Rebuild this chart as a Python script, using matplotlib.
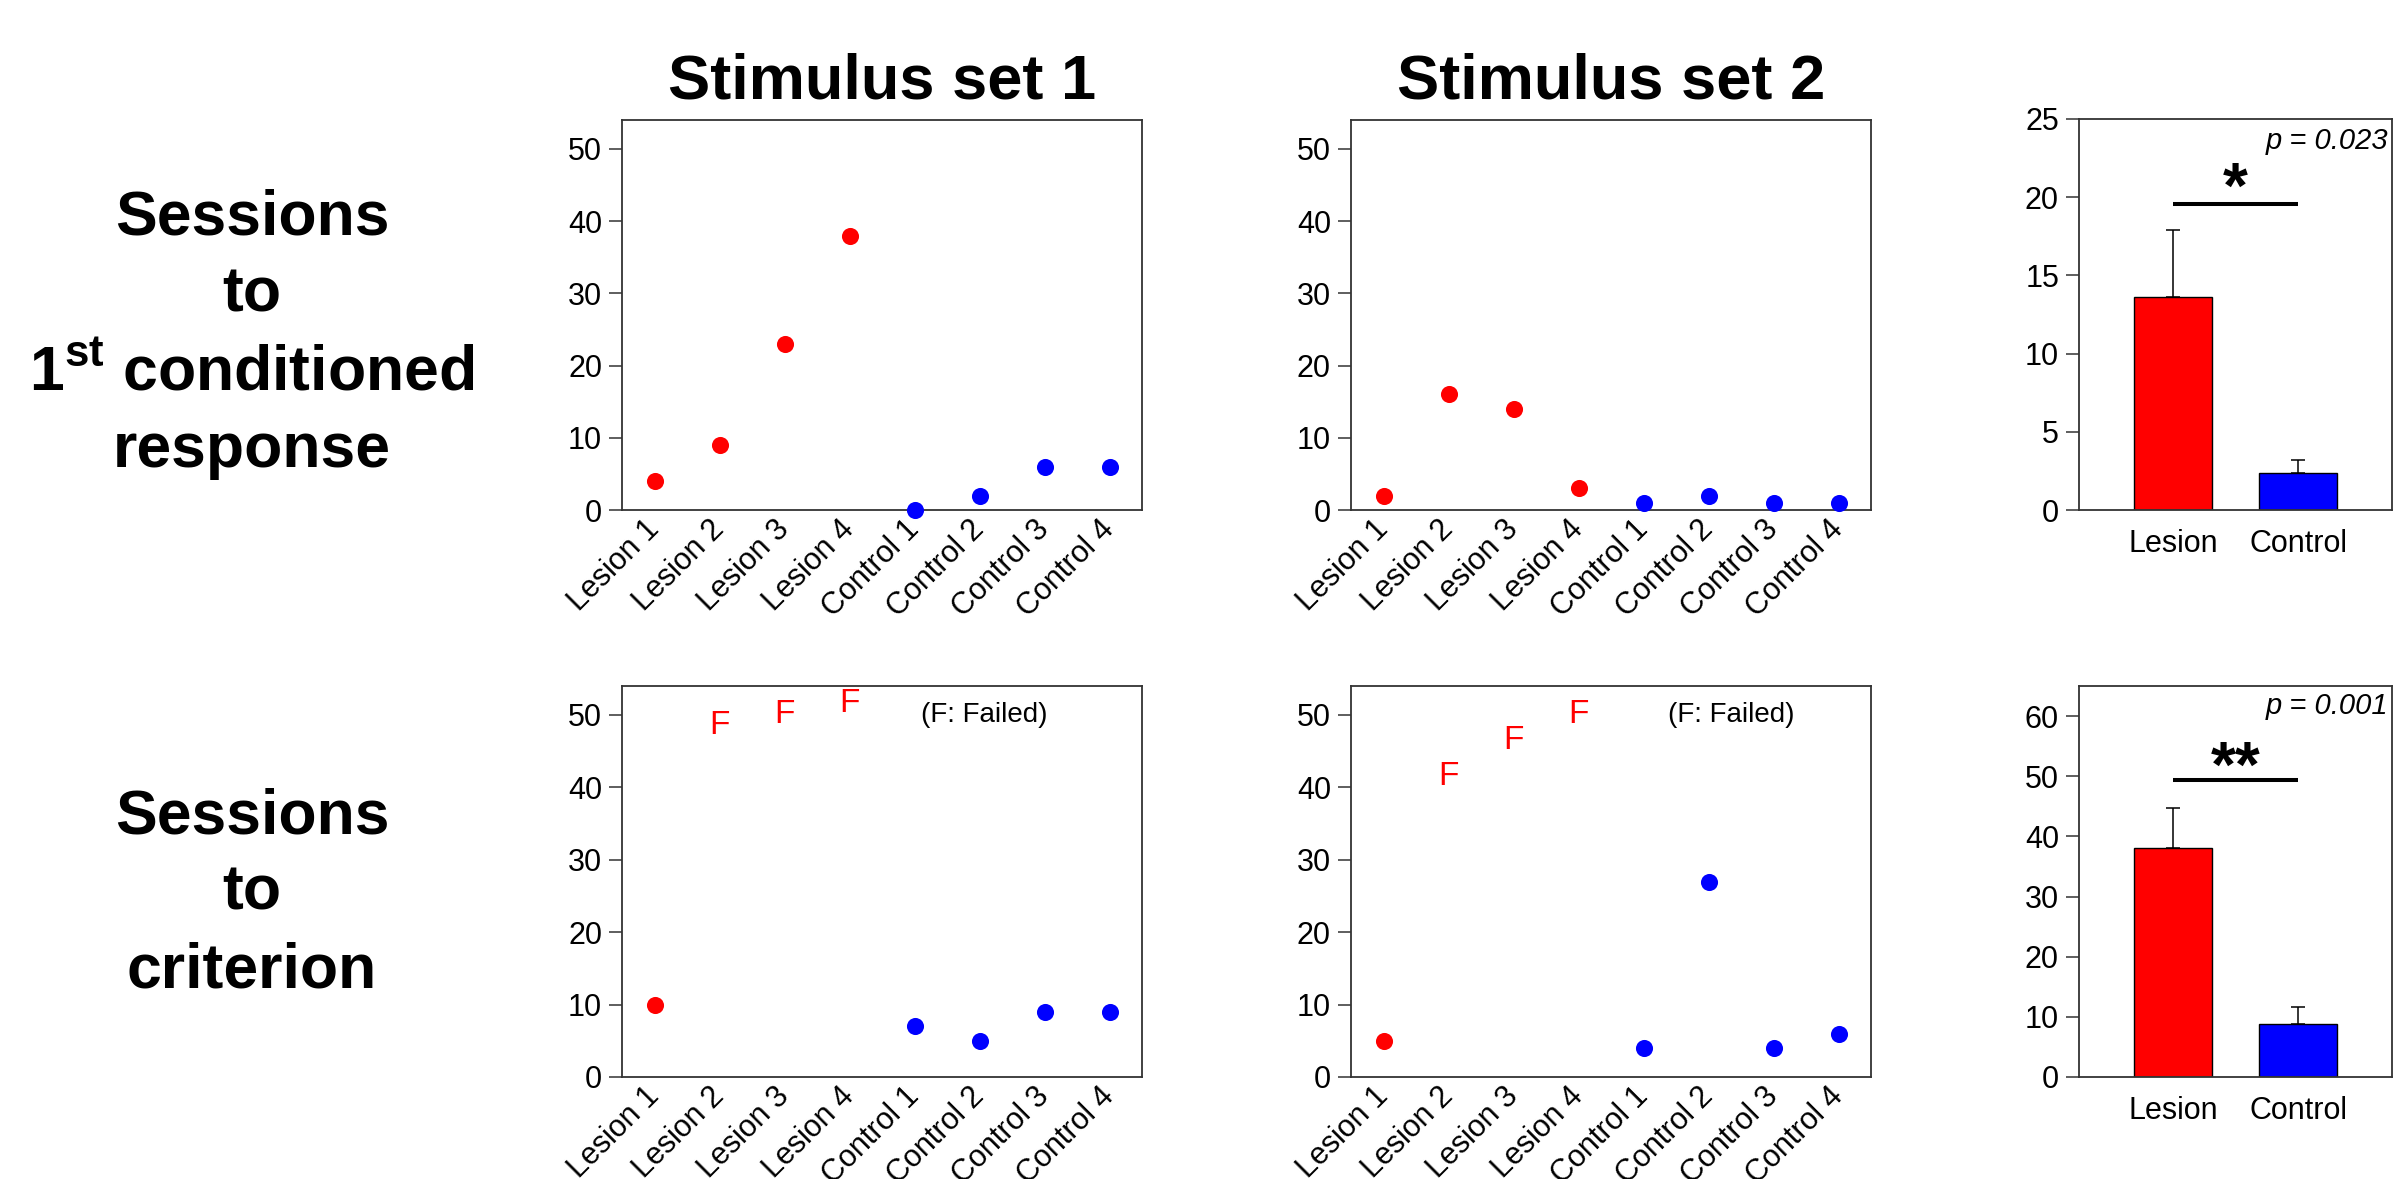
import matplotlib
matplotlib.use("Agg")
import matplotlib.pyplot as plt

plt.rcParams['font.family'] = ['Liberation Sans', 'DejaVu Sans']
plt.rcParams['mathtext.fontset'] = 'custom'
plt.rcParams['mathtext.rm'] = 'Liberation Sans'
plt.rcParams['mathtext.bf'] = 'Liberation Sans:bold'

# data
animals = ['Lesion 1', 'Lesion 2', 'Lesion 3', 'Lesion 4',
           'Control 1', 'Control 2', 'Control 3', 'Control 4']
lesion_flag = [True, True, True, True, False, False, False, False]

first_cr_set1 = [4, 9, 23, 38, 0, 2, 6, 6]
first_cr_set2 = [2, 16, 14, 3, 1, 2, 1, 1]
criterion_set1 = [10, None, None, None, 7, 5, 9, 9]
criterion_set2 = [5, None, None, None, 4, 27, 4, 6]
# height of the "F" (failed) marks for Lesion 2-4
failed_set1 = [48.6, 50, 51.6]
failed_set2 = [41.5, 46.5, 50]

groups = ['Lesion', 'Control']
first_cr_mean = [13.6, 2.35]
first_cr_sem = [4.3, 0.85]
criterion_mean = [38.0, 8.85]
criterion_sem = [6.8, 2.75]
p_texts = ['p = 0.023', 'p = 0.001']
stars = ['*', '**']
sig_y = [19.55, 49.3]

RED = '#ff0000'
BLUE = '#0000ff'
SPINE = '#333333'

W, H = 2397, 1179
fig = plt.figure(figsize=(W / 100, H / 100), dpi=100)


def axes_px(x0, y0, x1, y1):
    return fig.add_axes([x0 / W, 1 - y1 / H, (x1 - x0) / W, (y1 - y0) / H])


def style(ax):
    for s in ax.spines.values():
        s.set_color(SPINE)
        s.set_linewidth(1.3)
    ax.tick_params(axis='y', direction='out', length=9.4, width=1.1,
                   pad=5, labelsize=22, color=SPINE)


def scatter_panel(ax, values, failed=None, note_x=5.1):
    style(ax)
    for i, v in enumerate(values):
        if v is None:
            continue
        ax.plot(i, v, 'o', ms=12.3, color=RED if lesion_flag[i] else BLUE,
                mec='none', clip_on=False, zorder=3)
    if failed is not None:
        idx = [i for i, v in enumerate(values) if v is None]
        for i, fy in zip(idx, failed):
            ax.text(i, fy, 'F', color=RED, fontsize=24, ha='center', va='center')
        ax.text(note_x, 50, '(F: Failed)', fontsize=20, ha='center', va='center')
    ax.set_xlim(-0.5, 7.5)
    ax.set_ylim(0, 54)
    ax.set_yticks([0, 10, 20, 30, 40, 50])
    ax.set_xticks(range(len(animals)))
    ax.set_xticklabels(animals, rotation=45, ha='right', va='center',
                       rotation_mode='anchor', fontsize=22)
    ax.tick_params(axis='x', length=0, pad=11)


def bar_panel(ax, means, sems, ymax, yticks, ptxt, star, sy, py, star_off):
    style(ax)
    ax.bar(range(2), means, width=0.625, color=[RED, BLUE],
           edgecolor='black', linewidth=1.0, zorder=2)
    ax.errorbar(range(2), means, yerr=[[0, 0], sems], fmt='none',
                ecolor='black', elinewidth=1.1, capsize=4.8, capthick=1.1, zorder=1)
    ax.plot([0, 1], [sy, sy], color='black', lw=2.9, solid_capstyle='butt')
    ax.text(0.5, sy - star_off, star, fontsize=46, fontweight='bold',
            ha='center', va='baseline')
    ax.text(0.987, py, ptxt, transform=ax.get_yaxis_transform(),
            fontsize=21, style='italic', ha='right', va='center')
    ax.set_xlim(-0.75, 1.75)
    ax.set_ylim(0, ymax)
    ax.set_yticks(yticks)
    ax.set_xticks(range(2))
    ax.set_xticklabels(groups, fontsize=22)
    ax.tick_params(axis='x', length=0, pad=14)


# top row
ax1 = axes_px(622, 120, 1142, 510)
scatter_panel(ax1, first_cr_set1)
ax2 = axes_px(1351, 120, 1871, 510)
scatter_panel(ax2, first_cr_set2)
ax3 = axes_px(2079, 119, 2392, 510)
bar_panel(ax3, first_cr_mean, first_cr_sem, 25, [0, 5, 10, 15, 20, 25],
          p_texts[0], stars[0], sig_y[0], 23.6, 0.25)

# bottom row
ax4 = axes_px(622, 686, 1142, 1077)
scatter_panel(ax4, criterion_set1, failed_set1, note_x=5.08)
ax5 = axes_px(1351, 686, 1871, 1077)
scatter_panel(ax5, criterion_set2, failed_set2, note_x=5.35)
ax6 = axes_px(2079, 686, 2392, 1077)
bar_panel(ax6, criterion_mean, criterion_sem, 65, [0, 10, 20, 30, 40, 50, 60],
          p_texts[1], stars[1], sig_y[1], 61.6, 1.0)

# column titles
for ax, t in [(ax1, 'Stimulus set 1'), (ax2, 'Stimulus set 2')]:
    ax.text(0.5, 1.0564, t, transform=ax.transAxes, fontsize=45.5,
            fontweight='bold', ha='center', va='baseline')

# row labels
row1 = ['Sessions', 'to', r'1$^{\mathbf{st}}$ conditioned', 'response']
row1_base = [235, 312, 390, 467]
row2 = ['Sessions', 'to', 'criterion']
row2_base = [833, 910, 987]
for lines, bases in [(row1, row1_base), (row2, row2_base)]:
    for s, b in zip(lines, bases):
        fig.text(252 / W, 1 - b / H, s, fontsize=45, fontweight='bold',
                 ha='center', va='baseline')

fig.savefig('out.png', dpi=100)
